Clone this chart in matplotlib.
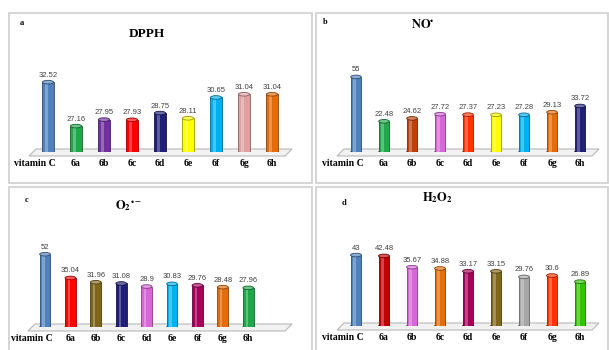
import matplotlib
matplotlib.use("Agg")
import matplotlib.pyplot as plt
import numpy as np
from matplotlib.patches import Ellipse, Polygon, Rectangle
from matplotlib.colors import to_rgb

plt.rcParams['mathtext.fontset'] = 'stix'

categories = ["vitamin C", "6a", "6b", "6c", "6d", "6e", "6f", "6g", "6h"]

dpph = [32.52, 27.16, 27.95, 27.93, 28.75, 28.11, 30.65, 31.04, 31.04]
no_rad = [55, 22.48, 24.62, 27.72, 27.37, 27.23, 27.28, 29.13, 33.72]
o2_rad = [52, 35.04, 31.96, 31.08, 28.9, 30.83, 29.76, 28.48, 27.96]
h2o2 = [43, 42.48, 35.67, 34.88, 33.17, 33.15, 29.76, 30.6, 26.89]

dpph_colors = ["#4f81bd", "#1fa84a", "#7030a0", "#ff0000", "#1f1f78",
               "#ffff00", "#00b0f0", "#e0a0a0", "#e46c0a"]
no_colors = ["#4f81bd", "#1fa84a", "#c0400a", "#d966d9", "#ff3300",
             "#ffff00", "#00b0f0", "#e46c0a", "#1f1f78"]
o2_colors = ["#4f81bd", "#ff0000", "#80661a", "#1f1f78", "#d966d9",
             "#00b0f0", "#a5005a", "#e46c0a", "#1fa84a"]
h2o2_colors = ["#4f81bd", "#c00000", "#d966d9", "#e46c0a", "#a5005a",
               "#80661a", "#a6a6a6", "#ff3300", "#33c400"]

W, H = 609, 350
fig = plt.figure(figsize=(W / 100, H / 100), dpi=100)


def fx(px):
    return px / W


def fy(py):
    return 1 - py / H


def darker(c, f=0.6):
    r, g, b = to_rgb(c)
    return (r * f, g * f, b * f)


def lighter(c, f=0.35):
    r, g, b = to_rgb(c)
    return (r + (1 - r) * f, g + (1 - g) * f, b + (1 - b) * f)


def panel(box, letter, letter_xy, title, title_xy, tsize, values, colors,
          left, right, base, top, c0, sp, ymin, ymax, width, floor):
    # panel frame
    x0, y0, x1, y1 = box
    fig.patches.append(Rectangle((fx(x0), fy(y1)), fx(x1) - fx(x0), fy(y0) - fy(y1),
                                 transform=fig.transFigure, fill=False,
                                 edgecolor="#d2d2d2", lw=1.3, zorder=-5))
    fig.text(fx(letter_xy[0]), fy(letter_xy[1]), letter, fontsize=6,
             fontweight="bold", family="Liberation Serif", ha="center", va="center")
    fig.text(fx(title_xy[0]), fy(title_xy[1]), title, fontsize=tsize,
             fontweight="bold", family="Liberation Serif", ha="center", va="center")

    ax = fig.add_axes([fx(left), fy(base), fx(right) - fx(left), fy(top) - fy(base)])
    ax.set_xlim((left - c0) / sp, (right - c0) / sp)
    ax.set_ylim(ymin, ymax)
    ax.axis("off")
    ax.patch.set_alpha(0)

    # floor platform
    fl = Polygon([(fx(p[0]), fy(p[1])) for p in floor], closed=True,
                 transform=fig.transFigure, facecolor="#f2f2f2",
                 edgecolor="#b8b8b8", lw=0.8, zorder=0, clip_on=False)
    ax.add_patch(fl)

    scale = (base - top) / (ymax - ymin)
    eh = 3.6 / scale
    x = np.arange(len(values))
    ax.bar(x, np.array(values) - ymin, bottom=ymin, width=width, color=colors,
           edgecolor=[darker(c) for c in colors], lw=0.6, zorder=2)
    ax.bar(x - width * 0.14, np.array(values) - ymin, bottom=ymin, width=width * 0.22,
           color="white", alpha=0.28, lw=0, zorder=3)
    for i, v in enumerate(values):
        ax.add_patch(Ellipse((i, v), width, eh, facecolor=lighter(colors[i]),
                             edgecolor=darker(colors[i]), lw=0.6, zorder=4))
        ax.add_patch(Ellipse((i, ymin), width, eh, facecolor=colors[i],
                             edgecolor=darker(colors[i]), lw=0.6, zorder=1.9))
        ax.annotate(f"{v:g}", (i, v), xytext=(0, 2.5), textcoords="offset points",
                    ha="center", va="bottom", fontsize=5.5, color="#404040",
                    family="Liberation Sans", annotation_clip=False)
    for i, lab in enumerate(categories):
        dx = -9.5 if i == 0 else 0
        ax.annotate(lab, (i, 0), xycoords=("data", "axes fraction"),
                    xytext=(dx, -8.5), textcoords="offset points",
                    ha="center", va="center", fontsize=7, fontweight="bold",
                    family="Liberation Serif", annotation_clip=False)
    return ax


panel((9, 13, 312, 183), "a", (22, 23), "DPPH", (147, 34), 9.5, dpph, dpph_colors,
      29, 291, 152, 40, 48, 28, 24, 24 + 112 / 8.2, 0.40,
      [(29, 156), (36, 149), (292, 149), (285, 156)])

panel((316, 13, 608, 183), "b", (325, 22), r"$\mathbf{NO}^{\bullet}$", (423, 25), 9,
      no_rad, no_colors,
      336, 598, 152, 40, 356, 28, 0, 112 / 1.365, 0.38,
      [(337, 156), (344, 149), (599, 149), (592, 156)])

panel((9, 187, 312, 352), "c", (27, 200), r"$\mathbf{O_2}^{\bullet -}$", (128, 206), 9,
      o2_rad, o2_colors,
      28, 292, 327, 215, 45, 25.4, 0, 112 / 1.40, 0.42,
      [(28, 331), (35, 324), (292, 324), (285, 331)])

panel((316, 187, 608, 352), "d", (344, 203), r"$\mathbf{H_2O_2}$", (438, 198), 9,
      h2o2, h2o2_colors,
      337, 598, 326, 215, 356, 28, 0, 111 / 1.65, 0.39,
      [(337, 330), (344, 323), (599, 323), (592, 330)])

fig.savefig("out.png", dpi=100, facecolor="white")
